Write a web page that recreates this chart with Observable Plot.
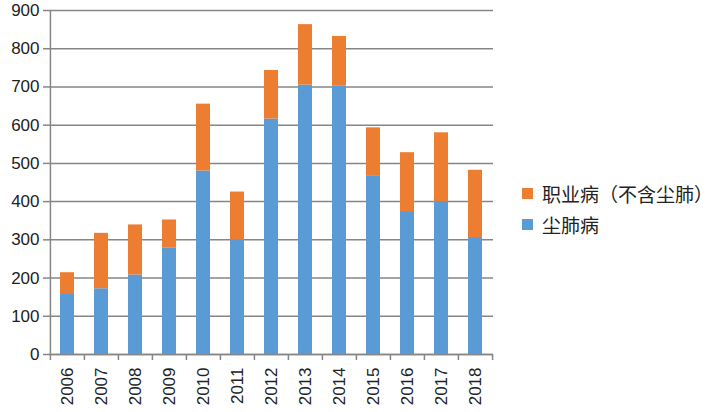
<!DOCTYPE html>
<html>
<head>
<meta charset="utf-8">
<script src="https://cdn.jsdelivr.net/npm/d3@7"></script>
<script src="https://cdn.jsdelivr.net/npm/@observablehq/plot@0.6"></script>
<style>
  html, body { margin: 0; padding: 0; background: #fff; }
  #wrap { position: relative; width: 715px; height: 412px; overflow: hidden; }
  #legend { position: absolute; left: 522px; top: 178px; font-family: "Noto Sans CJK SC", sans-serif; font-size: 19px; color: #222; white-space: nowrap; }
  .item { display: flex; align-items: center; height: 31px; }
  .sw { width: 11px; height: 11px; margin-right: 9px; }
</style>
</head>
<body>
<div id="wrap"><div id="legend"></div></div>
<script>
const years = ["2006","2007","2008","2009","2010","2011","2012","2013","2014","2015","2016","2017","2018"];
// 尘肺病 (pneumoconiosis)
const pneumo = [157, 172, 208, 278, 480, 299, 616, 705, 703, 466, 374, 400, 306];
// 职业病（不含尘肺）(other occupational diseases)
const other = [57, 145, 131, 74, 175, 126, 127, 158, 129, 127, 154, 180, 176];
const seriesNames = ["尘肺病", "职业病（不含尘肺）"];
const seriesColors = ["#5B9BD5", "#ED7D31"];
const yTicks = [0, 100, 200, 300, 400, 500, 600, 700, 800, 900];

const data = [];
years.forEach((y, i) => {
  data.push({year: y, series: seriesNames[0], value: pneumo[i]});
  data.push({year: y, series: seriesNames[1], value: other[i]});
});

const W = 715, H = 412;
const mL = 49, mR = 222, mT = 10, mB = 58;
const pad = 0.59;
const step = (W - mL - mR) / years.length;
const axisColor = "#868686";
const font = "'Liberation Sans', Arial, sans-serif";

const chart = Plot.plot({
  width: W, height: H,
  marginLeft: mL, marginRight: mR, marginTop: mT, marginBottom: mB,
  style: {fontFamily: font, fontSize: "17px", color: "#222", background: "transparent"},
  x: {domain: years, paddingInner: pad, paddingOuter: pad / 2, label: null},
  y: {domain: [0, 900], label: null},
  color: {domain: seriesNames, range: seriesColors},
  marks: [
    Plot.gridY(yTicks, {stroke: axisColor, strokeOpacity: 1, strokeWidth: 1.5}),
    Plot.barY(data, {x: "year", y: "value", fill: "series", order: seriesNames}),
    Plot.ruleX([years[0]], {dx: -step / 2, stroke: axisColor, strokeWidth: 1.5}),
    Plot.axisY({ticks: yTicks, tickSize: 6, tickPadding: 4, stroke: axisColor, strokeWidth: 1.5, fill: "#222", fontSize: 17}),
    Plot.axisX({ticks: years, tickSize: 6, tickFormat: () => "", dx: -step / 2, stroke: axisColor, strokeWidth: 1.5}),
    Plot.axisX({ticks: [years[years.length - 1]], tickSize: 6, tickFormat: () => "", dx: step / 2, stroke: axisColor, strokeWidth: 1.5}),
    Plot.axisX({ticks: years, tickSize: 0, tickPadding: 13, tickRotate: -90, fill: "#222", fontSize: 17}),
    Plot.ruleY([0], {stroke: axisColor, strokeWidth: 1.5})
  ]
});
document.getElementById("wrap").prepend(chart);

const legend = document.getElementById("legend");
[1, 0].forEach(i => {
  const it = document.createElement("div");
  it.className = "item";
  it.innerHTML = `<span class="sw" style="background:${seriesColors[i]}"></span><span>${seriesNames[i]}</span>`;
  legend.appendChild(it);
});
</script>
</body>
</html>
